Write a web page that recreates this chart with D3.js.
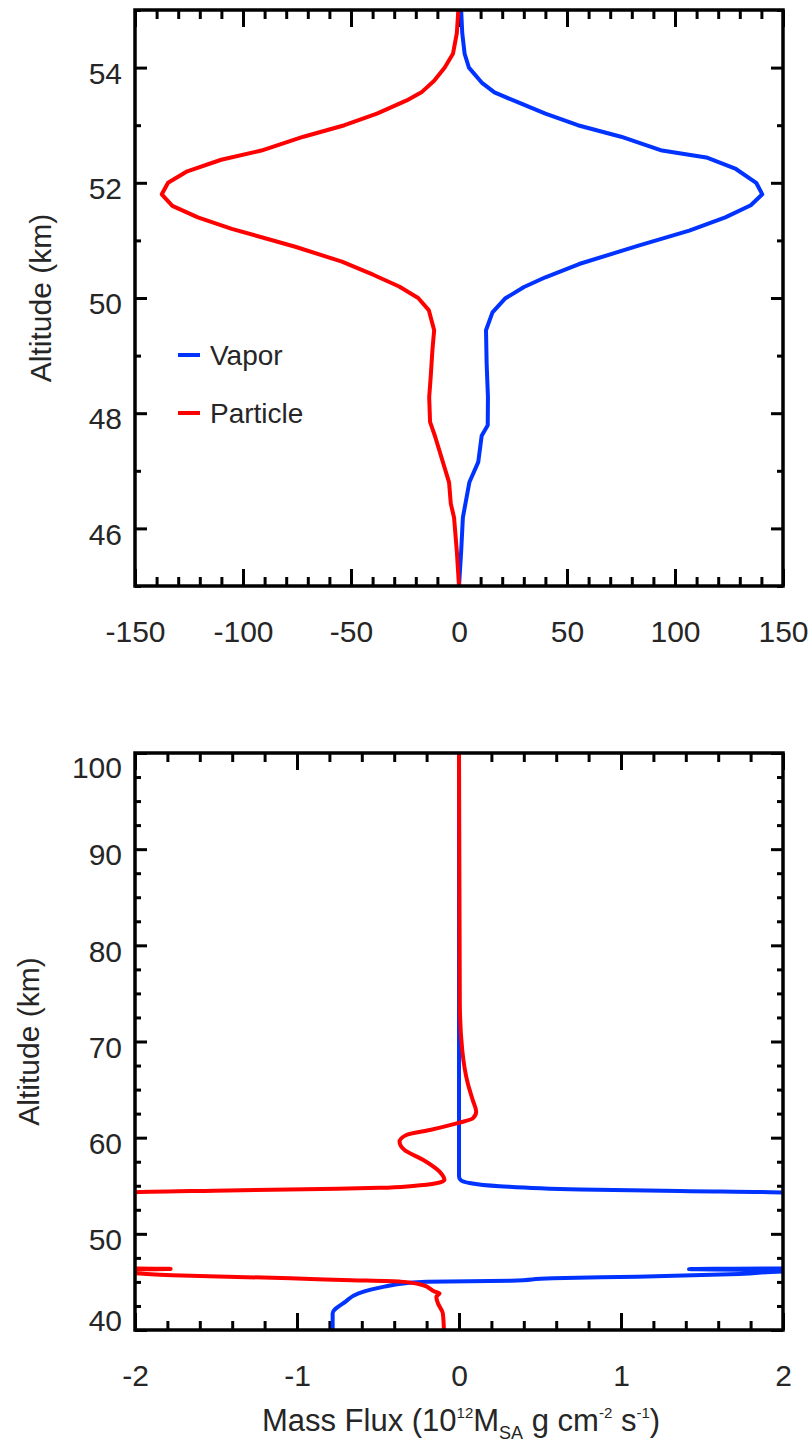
<!DOCTYPE html>
<html>
<head>
<meta charset="utf-8">
<script src="https://cdn.jsdelivr.net/npm/d3@7"></script>
<style>
    body { margin: 0; background: #fff; }
    svg text { font-family: "Liberation Sans", Arial, Helvetica, sans-serif; fill: #262626; }
</style>
</head>
<body>
<svg id="chart" width="812" height="1446"></svg>
<script>
// ---- TOP PANEL (45-55 km), flux in 10^12 M_SA g cm-2 s-1 ----
const topVaporAlt = [55.0, 54.6, 54.24, 54.0, 53.74, 53.57, 53.43, 53.2, 53.0, 52.8, 52.56, 52.44, 52.24, 52.0, 51.8, 51.61, 51.4, 51.17, 50.91, 50.59, 50.36, 50.19, 49.99, 49.75, 49.44, 48.86, 48.28, 47.79, 47.61, 47.15, 46.8, 46.19, 45.6, 45.0];
const topVaporFlux = [1.0, 1.5, 2.6, 4.6, 10.5, 16.4, 25.2, 40, 55, 75, 94, 114.5, 128.2, 137.6, 140.4, 135.1, 123.3, 106.6, 83.1, 55.6, 40, 30.1, 21.3, 15.5, 12.5, 12.8, 13.4, 13.3, 10.5, 8.9, 4.8, 1.8, 1.0, 0];
const topParticleAlt = [55.0, 54.6, 54.24, 54.0, 53.77, 53.57, 53.43, 53.2, 53.0, 52.8, 52.56, 52.4, 52.2, 52.0, 51.8, 51.6, 51.4, 51.2, 50.89, 50.63, 50.4, 50.2, 50.0, 49.79, 49.44, 49.1, 48.63, 48.28, 47.85, 47.6, 47.18, 46.8, 46.43, 46.19, 45.6, 45.0];
const topParticleFlux = [-0.3, -1.0, -2.8, -6.6, -11.5, -17.4, -24.2, -38, -53, -72, -91.5, -110.1, -125.8, -134.7, -137.6, -132.7, -120.9, -105.2, -75.8, -54.2, -39.5, -27.7, -18.9, -14.0, -11.5, -12.3, -13.1, -13.8, -13.4, -11.1, -7.7, -4.6, -3.8, -2.3, -1.0, 0];
const topXTicks = [-150, -100, -50, 0, 50, 100, 150];
const topYTicks = [46, 48, 50, 52, 54];

// ---- BOTTOM PANEL (40-100 km) ----
const botVaporAlt = [100, 56.0, 55.6, 55.3, 54.95, 54.6, 54.45, 54.3, 50.0, 46.45, 46.33, 46.22, 46.1, 45.83, 45.55, 45.38, 45.13, 45.03, 44.86, 44.51, 43.82, 42.95, 41.74, 40.0];
const botVaporFlux = [0, 0, 0.01, 0.06, 0.25, 0.75, 1.36, 2.0, 3.0, 2.4, 1.42, 2.4, 2.02, 1.73, 1.1, 0.58, 0.32, -0.2, -0.33, -0.46, -0.62, -0.70, -0.78, -0.78];
const botParticleAlt = [100, 74.0, 69.1, 65.65, 63.9, 62.7, 62.0, 61.56, 60.8, 60.28, 59.58, 58.72, 57.68, 56.46, 55.6, 55.26, 54.98, 54.78, 54.68, 54.49, 54.32, 50.0, 46.45, 46.35, 46.25, 45.9, 45.69, 45.38, 45.2, 45.03, 44.7, 44.0, 43.8, 43.47, 42.78, 41.74, 40.0];
const botParticleFlux = [0, 0.005, 0.02, 0.054, 0.085, 0.106, 0.085, 0.003, -0.18, -0.325, -0.367, -0.336, -0.22, -0.12, -0.09, -0.14, -0.285, -0.49, -0.75, -1.51, -2.0, -3.0, -2.4, -1.78, -2.4, -2.0, -1.77, -1.04, -0.72, -0.36, -0.23, -0.15, -0.12, -0.14, -0.13, -0.10, -0.093];
const botXTicks = [-2, -1, 0, 1, 2];
const botYTicks = [40, 50, 60, 70, 80, 90, 100];

const seriesNames = ['Vapor', 'Particle'];
const seriesColors = ['#0033ff', '#ff0000'];

function zipSeries(alts, fluxes) {
    return alts.map(function(a, i){ return {'alt': a, 'flux': fluxes[i]}; });
}

class ProfilePanel {

    constructor(svg, series, config = {}) {
        let self = this;
        this.svg = svg;
        this.series = series;

        // Panel configuration
        this.cfg = {
            'left': 135, 'top': 10, 'width': 648, 'height': 576,
            'xdomain': [-150, 150], 'ydomain': [45, 55],
            'xticks': [], 'yticks': [], 'xminor': 10, 'yminor': 1,
            'xmajorLen': 17, 'xminorLen': 9, 'ymajorLen': 12, 'yminorLen': 6,
            'curve': d3.curveLinear,
            'fontsize': 30,
            'ytitle': 'Altitude (km)', 'ytitleX': 51,
            'legend': false,
            'id': 'p'
        };
        Object.keys(config).forEach(function(key){ self.cfg[key] = config[key]; });

        this.xScale = d3.scaleLinear().domain(this.cfg.xdomain).range([0, this.cfg.width]);
        this.yScale = d3.scaleLinear().domain(this.cfg.ydomain).range([this.cfg.height, 0]);

        this.draw();
    }

    minorTicks(domain, step, majors) {
        return d3.range(domain[0], domain[1] + step / 2, step).filter(function(v){
            return !majors.some(function(m){ return Math.abs(m - v) < step * 1e-3; });
        });
    }

    styleAxis(g) {
        g.select('.domain').remove();
        g.selectAll('line').attr('stroke', '#000').attr('stroke-width', 3);
        g.attr('font-size', this.cfg.fontsize).attr('font-family', null);
        g.selectAll('text').attr('fill', '#262626');
    }

    draw() {
        let self = this;
        let cfg = this.cfg;

        this.g = this.svg.append('g')
            .attr('transform', 'translate(' + cfg.left + ',' + cfg.top + ')');

        // CLIP
        this.svg.append('clipPath').attr('id', 'clip-' + cfg.id)
            .append('rect').attr('width', cfg.width).attr('height', cfg.height);

        let xMinor = this.minorTicks(cfg.xdomain, cfg.xminor, cfg.xticks);
        let yMinor = this.minorTicks(cfg.ydomain, cfg.yminor, cfg.yticks);

        // AXIS - minor ticks
        this.g.append('g').call(d3.axisBottom(self.xScale).tickValues(xMinor).tickSizeInner(-cfg.xminorLen).tickSizeOuter(0).tickFormat(''))
            .attr('transform', 'translate(0,' + cfg.height + ')').call(function(g){ self.styleAxis(g); });
        this.g.append('g').call(d3.axisTop(self.xScale).tickValues(xMinor).tickSizeInner(-cfg.xminorLen).tickSizeOuter(0).tickFormat(''))
            .call(function(g){ self.styleAxis(g); });
        this.g.append('g').call(d3.axisLeft(self.yScale).tickValues(yMinor).tickSizeInner(-cfg.yminorLen).tickSizeOuter(0).tickFormat(''))
            .call(function(g){ self.styleAxis(g); });
        this.g.append('g').call(d3.axisRight(self.yScale).tickValues(yMinor).tickSizeInner(-cfg.yminorLen).tickSizeOuter(0).tickFormat(''))
            .attr('transform', 'translate(' + cfg.width + ',0)').call(function(g){ self.styleAxis(g); });

        // AXIS - major ticks and labels
        this.xAxis = this.g.append('g').attr('class', 'axis axis--x')
            .attr('transform', 'translate(0,' + cfg.height + ')')
            .call(d3.axisBottom(self.xScale).tickValues(cfg.xticks).tickSizeInner(-cfg.xmajorLen).tickSizeOuter(0).tickPadding(35)
                .tickFormat(function(d){ return String(d); }))
            .call(function(g){ self.styleAxis(g); });
        this.g.append('g').call(d3.axisTop(self.xScale).tickValues(cfg.xticks).tickSizeInner(-cfg.xmajorLen).tickSizeOuter(0).tickFormat(''))
            .call(function(g){ self.styleAxis(g); });

        this.yAxis = this.g.append('g').attr('class', 'axis axis--y')
            .call(d3.axisLeft(self.yScale).tickValues(cfg.yticks).tickSizeInner(-cfg.ymajorLen).tickSizeOuter(0).tickPadding(13)
                .tickFormat(function(d){ return String(d); }))
            .call(function(g){ self.styleAxis(g); });
        this.g.append('g').call(d3.axisRight(self.yScale).tickValues(cfg.yticks).tickSizeInner(-cfg.ymajorLen).tickSizeOuter(0).tickFormat(''))
            .attr('transform', 'translate(' + cfg.width + ',0)').call(function(g){ self.styleAxis(g); });

        // keep the end labels inside the frame
        this.yAxis.selectAll('text')
            .attr('dy', 0)
            .attr('y', function(d){
                let y = self.yScale(d);
                let base = Math.max(24, Math.min(cfg.height, y + 15.75));
                return base - y;
            });

        // LINES
        this.line = d3.line()
            .x(function(d){ return self.xScale(d.flux); })
            .y(function(d){ return self.yScale(d.alt); })
            .curve(cfg.curve);

        this.lines = this.g.append('g').attr('clip-path', 'url(#clip-' + cfg.id + ')')
            .selectAll('.line')
            .data(this.series)
            .enter().append('path')
            .attr('class', 'line')
            .attr('fill', 'none')
            .attr('stroke', function(d, i){ return seriesColors[i]; })
            .attr('stroke-width', 4)
            .attr('stroke-linejoin', 'round')
            .attr('d', function(d){ return self.line(d); });

        // FRAME
        this.g.append('rect')
            .attr('width', cfg.width).attr('height', cfg.height)
            .attr('fill', 'none').attr('stroke', '#000').attr('stroke-width', 3.5);

        // TITLE
        this.svg.append('text')
            .attr('transform', 'translate(' + cfg.ytitleX + ',' + (cfg.top + cfg.height / 2) + ') rotate(-90)')
            .attr('text-anchor', 'middle')
            .attr('font-size', cfg.fontsize)
            .text(cfg.ytitle);

        // LEGEND
        if (cfg.legend) {
            let lg = this.g.selectAll('.legend')
                .data(seriesNames).enter()
                .append('g').attr('class', 'legend')
                .attr('transform', function(d, i){ return 'translate(43,' + (345 + i * 58) + ')'; });
            lg.append('line')
                .attr('x1', 0).attr('x2', 22)
                .attr('stroke', function(d, i){ return seriesColors[i]; })
                .attr('stroke-width', 4);
            lg.append('text')
                .attr('x', 32).attr('y', 10)
                .attr('font-size', 28)
                .text(function(d){ return d; });
        }
    }
}

const svg = d3.select('#chart');

new ProfilePanel(svg,
    [zipSeries(topVaporAlt, topVaporFlux), zipSeries(topParticleAlt, topParticleFlux)],
    {'id': 'top', 'left': 135, 'top': 10, 'width': 648, 'height': 576,
     'xdomain': [-150, 150], 'ydomain': [45, 55],
     'xticks': topXTicks, 'yticks': topYTicks, 'xminor': 10, 'yminor': 1,
     'ytitleX': 51, 'legend': true});

new ProfilePanel(svg,
    [zipSeries(botVaporAlt, botVaporFlux), zipSeries(botParticleAlt, botParticleFlux)],
    {'id': 'bot', 'left': 135, 'top': 753, 'width': 648, 'height': 577,
     'xdomain': [-2, 2], 'ydomain': [40, 100],
     'xticks': botXTicks, 'yticks': botYTicks, 'xminor': 0.2, 'yminor': 2.5,
     'curve': d3.curveMonotoneY,
     'ytitleX': 39, 'legend': false});

// x axis title of the lower panel
const xt = svg.append('text')
    .attr('x', 461).attr('y', 1431)
    .attr('text-anchor', 'middle')
    .attr('font-size', 31);
xt.append('tspan').text('Mass Flux (10');
xt.append('tspan').attr('font-size', 15).attr('dy', -13).text('12');
xt.append('tspan').attr('dy', 13).text('M');
xt.append('tspan').attr('font-size', 18).attr('dy', 8).text('SA');
xt.append('tspan').attr('dy', -8).text(' g cm');
xt.append('tspan').attr('font-size', 15).attr('dy', -13).text('-2');
xt.append('tspan').attr('dy', 13).text(' s');
xt.append('tspan').attr('font-size', 15).attr('dy', -13).text('-1');
xt.append('tspan').attr('dy', 13).text(')');
</script>
</body>
</html>
